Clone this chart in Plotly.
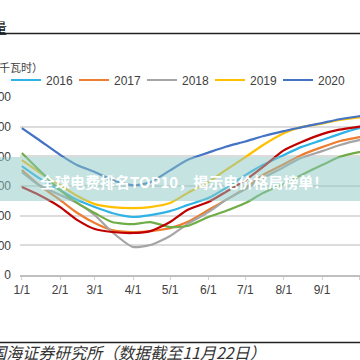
import plotly.graph_objects as go

# ---------------- data ----------------
dates = ["2021-01-01", "2021-01-15", "2021-02-01", "2021-02-15", "2021-03-01", "2021-03-15",
         "2021-04-01", "2021-04-15", "2021-05-01", "2021-05-15", "2021-06-01", "2021-06-15",
         "2021-07-01", "2021-07-15", "2021-08-01", "2021-08-15", "2021-09-01", "2021-09-15",
         "2021-10-01", "2021-10-15"]

s2016 = [734, 653, 572, 505, 458, 418, 391, 404, 431, 471, 519, 586, 673, 741, 808, 862, 909, 950, 990, 1010]
s2017 = [707, 606, 505, 418, 350, 303, 290, 296, 316, 357, 438, 505, 586, 673, 747, 808, 862, 902, 929, 950]
s2018 = [694, 606, 539, 485, 404, 290, 189, 202, 263, 343, 424, 505, 579, 653, 727, 788, 835, 875, 909, 925]
s2019 = [774, 694, 606, 532, 478, 458, 451, 458, 485, 552, 626, 707, 795, 875, 956, 997, 1020, 1045, 1062, 1075]
s2020 = [990, 910, 810, 740, 695, 640, 605, 625, 705, 775, 825, 865, 900, 935, 970, 995, 1025, 1050, 1070, 1085]
s2021 = [822, 707, 572, 485, 418, 357, 343, 357, 323, 330, 391, 431, 485, 552, 613, 673, 741, 795, 828, 845]
s2022 = [593, 539, 458, 370, 310, 290, 283, 296, 357, 438, 492, 559, 640, 727, 840, 895, 950, 980, 1000, 1015]

series_names = ["2016", "2017", "2018", "2019", "2020", "2021", "2022"]
series_vals = [s2016, s2017, s2018, s2019, s2020, s2021, s2022]
series_colors = ["#2FB3E6", "#ED7D31", "#A5A5A5", "#FFC000", "#4472C4", "#70AD47", "#C00000"]
in_legend = [True, True, True, True, True, False, False]

x_tickvals = ["2021-01-01", "2021-02-01", "2021-03-01", "2021-04-01", "2021-05-01", "2021-06-01",
              "2021-07-01", "2021-08-01", "2021-09-01", "2021-10-01"]
x_ticktext = ["1/1", "2/1", "3/1", "4/1", "5/1", "6/1", "7/1", "8/1", "9/1", "10/1"]
y_tickvals = [0, 200, 400, 600, 800, 1000, 1200]

title_text = "欧洲天然气库存量"
unit_text = "（十亿千瓦时）"
banner_text = "全球电费排名TOP10，揭示电价格局榜单！"
source_text = "资料来源：Wind，国海证券研究所（数据截至11月22日）"

# ---------------- figure ----------------
W, H = 360, 360
L, R, T, B = 20, 0, 97, 85
pw, ph = W - L - R, H - T - B


def px_x(px):
    return (px - L) / pw


def px_y(py):
    return (H - B - py) / ph


fig = go.Figure()
for name, vals, col, sl in zip(series_names, series_vals, series_colors, in_legend):
    fig.add_trace(go.Scatter(x=dates, y=vals, name=name, mode="lines",
                             line=dict(color=col, width=2.2, shape="spline", smoothing=0.6),
                             showlegend=sl))

cjk = "Noto Sans CJK SC"

fig.update_layout(
    width=W, height=H,
    margin=dict(l=L, r=R, t=T, b=B, autoexpand=False),
    paper_bgcolor="white", plot_bgcolor="white",
    template="none",
    font=dict(family="Liberation Sans, Arial", size=12, color="#404040"),
    legend=dict(orientation="h", x=px_x(6), y=px_y(80), xanchor="left", yanchor="middle",
                entrywidth=23, entrywidthmode="pixels", bgcolor="rgba(0,0,0,0)",
                font=dict(size=12, color="#404040"), itemwidth=30, tracegroupgap=0),
    showlegend=True,
)

fig.update_xaxes(type="date", range=["2020-12-30 12:00", "2021-10-01 18:00"],
                 tickvals=x_tickvals, ticktext=x_ticktext, showgrid=False,
                 showline=True, linecolor="#BFBFBF", linewidth=1.5,
                 ticks="outside", ticklen=3, tickcolor="#D0D0D0",
                 tickfont=dict(size=12, color="#404040"), automargin=False, zeroline=False)
fig.update_yaxes(range=[0, 1200], tickvals=y_tickvals, showgrid=True, gridcolor="#DCDCDC",
                 gridwidth=1.5, zeroline=False, showline=False, ticks="",
                 ticklabelstandoff=8, tickfont=dict(size=12, color="#404040"), automargin=False)

# title with underline
fig.add_annotation(xref="paper", yref="paper", x=px_x(9), y=px_y(27), text=title_text,
                   showarrow=False, xanchor="right", yanchor="middle",
                   font=dict(family=cjk, size=14, color="#111111"))
fig.add_shape(type="line", xref="paper", yref="paper", x0=-1, x1=2, y0=px_y(33.5), y1=px_y(33.5),
              line=dict(color="#222222", width=1.5))
# unit
fig.add_annotation(xref="paper", yref="paper", x=px_x(45), y=px_y(67), text=unit_text,
                   showarrow=False, xanchor="right", yanchor="middle",
                   font=dict(family=cjk, size=11, color="#404040"))
# source
fig.add_shape(type="line", xref="paper", yref="paper", x0=-1, x1=2, y0=px_y(342.5), y1=px_y(342.5),
              line=dict(color="#222222", width=1.5))
fig.add_annotation(xref="paper", yref="paper", x=px_x(268), y=px_y(352), text="<i>" + source_text + "</i>",
                   showarrow=False, xanchor="right", yanchor="middle",
                   font=dict(family=cjk, size=16, color="#333333"))
# banner overlay
fig.add_shape(type="rect", xref="paper", yref="paper", x0=-1, x1=2, y0=px_y(201), y1=px_y(157),
              fillcolor="rgba(140,200,195,0.5)", line=dict(width=0), layer="above")
fig.add_annotation(xref="paper", yref="paper", x=px_x(184), y=px_y(181), text="<b>" + banner_text + "</b>",
                   showarrow=False, xanchor="center", yanchor="middle",
                   font=dict(family=cjk, size=15, color="white"))

fig.write_html("out.html", config={"displayModeBar": False},
               post_script="document.body.style.margin='0';document.body.style.overflow='hidden';")
